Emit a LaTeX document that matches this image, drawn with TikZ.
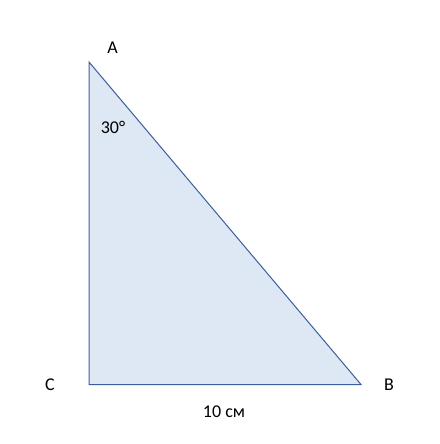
\documentclass[tikz,border=0pt]{standalone}
\usepackage{fontspec}
\setmainfont{Carlito}
\definecolor{edgeblue}{HTML}{3A5E9C}
\definecolor{fillblue}{HTML}{DEE8F5}
\tikzset{lbl/.style={inner sep=0pt, font=\fontsize{18}{20}\selectfont}}
\begin{document}
\begin{tikzpicture}[x=1pt,y=-1pt]
\useasboundingbox (0,0) rectangle (439,444);
\coordinate (A) at (89,62);
\coordinate (C) at (89,384.5);
\coordinate (B) at (361,384.5);
\draw[edgeblue, fill=fillblue, line width=1pt, line join=miter] (A) -- (B) -- (C) -- cycle;
\node[lbl] (la) at (112.5,48) {A};
\node[lbl] (lb) at (389,385) {B};
\node[lbl] (lc) at (50,385) {C};
\node[lbl] (ang) at (113,127) {30°};
\node[lbl] (len) at (224,412) {10 см};
\end{tikzpicture}
\end{document}
